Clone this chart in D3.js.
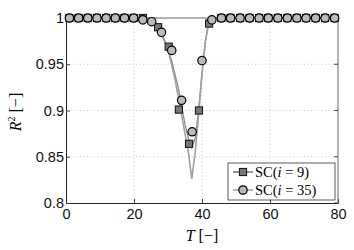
<!DOCTYPE html>
<html>
<head>
<meta charset="utf-8">
<script src="https://cdn.jsdelivr.net/npm/d3@7"></script>
<style>
body { margin: 0; background: #fff; }
</style>
</head>
<body>
<svg id="chart" width="354" height="250"></svg>
<script>
// markers
const sqT = [1, 3.7, 6.4, 9.1, 11.8, 14.5, 17.2, 19.9, 22.6, 27.1, 30.2, 33.2, 36.2, 39.1, 42.1, 45.7, 48.4, 51.2, 54.0, 56.8, 59.5, 62.3, 65.1, 67.9, 70.6, 73.4, 76.2, 79.0];
const sqR = [1, 1, 1, 1, 1, 1, 1, 1, 1, 0.990, 0.969, 0.901, 0.864, 0.900, 0.994, 1, 1, 1, 1, 1, 1, 1, 1, 1, 1, 1, 1, 1];
const ciT = [1, 3.7, 6.4, 9.1, 11.8, 14.5, 17.2, 19.9, 22.6, 25.2, 28.1, 31.1, 34.0, 37.1, 40.0, 42.9, 45.7, 48.4, 51.2, 54.0, 56.8, 59.5, 62.3, 65.1, 67.9, 70.6, 73.4, 76.2, 79.0];
const ciR = [1, 1, 1, 1, 1, 1, 1, 1, 0.998, 0.996, 0.9845, 0.965, 0.911, 0.877, 0.954, 0.998, 1, 1, 1, 1, 1, 1, 1, 1, 1, 1, 1, 1, 1];
// underlying curves
const lineAT = [0, 24, 26, 28, 30, 32, 34, 36, 37, 38, 39, 40, 41, 42, 43, 80];
const lineAR = [1, 1, 0.996, 0.985, 0.966, 0.935, 0.895, 0.855, 0.826, 0.855, 0.895, 0.94, 0.975, 0.995, 1, 1];
const lineBT = [0, 24, 26, 27, 29, 31, 33, 34, 35, 36, 37, 38, 39, 40, 41, 42, 43, 80];
const lineBR = [1, 1, 0.997, 0.99, 0.975, 0.955, 0.925, 0.905, 0.885, 0.87, 0.86, 0.87, 0.9, 0.94, 0.975, 0.995, 1, 1];

const xTicks = [0, 20, 40, 60, 80];
const yTicks = [0.8, 0.85, 0.9, 0.95, 1];
const legendLabels = ["9", "35"];

const SANS = "Liberation Sans, Arial, sans-serif";
const SERIF = "'Liberation Serif', 'DejaVu Serif', serif";

const svg = d3.select("#chart");
const mLeft = 66, mRight = 338, mTop = 18, mBottom = 203;

const x = d3.scaleLinear().domain([0, 80]).range([mLeft, mRight]);
const y = d3.scaleLinear().domain([0.8, 1]).range([mBottom, mTop]);

// grid
svg.append("g").selectAll("line").data(xTicks.slice(1, -1)).join("line")
    .attr("x1", d => x(d)).attr("x2", d => x(d))
    .attr("y1", mTop).attr("y2", mBottom)
    .attr("stroke", "#c8c8c8").attr("stroke-dasharray", "1,2.5");
svg.append("g").selectAll("line").data(yTicks.slice(1, -1)).join("line")
    .attr("y1", d => y(d)).attr("y2", d => y(d))
    .attr("x1", mLeft).attr("x2", mRight)
    .attr("stroke", "#c8c8c8").attr("stroke-dasharray", "1,2.5");

// box
svg.append("line").attr("x1", mLeft).attr("x2", mRight).attr("y1", mTop).attr("y2", mTop).attr("stroke", "#666");
svg.append("line").attr("x1", mRight).attr("x2", mRight).attr("y1", mTop).attr("y2", mBottom).attr("stroke", "#666");

const xAxis = svg.append("g").attr("transform", `translate(0,${mBottom})`)
    .call(d3.axisBottom(x).tickValues(xTicks).tickSizeInner(-4).tickSizeOuter(0).tickPadding(6));
const yAxis = svg.append("g").attr("transform", `translate(${mLeft},0)`)
    .call(d3.axisLeft(y).tickValues(yTicks).tickFormat(d => String(+d.toFixed(2))).tickSizeInner(-4).tickSizeOuter(0).tickPadding(2));
[xAxis, yAxis].forEach(a => {
    a.attr("font-family", SANS).attr("font-size", 14.5);
    a.select(".domain").attr("stroke", "#222");
    a.selectAll(".tick line").attr("stroke", "#444");
    a.selectAll("text").attr("fill", "#111");
});
// ticks on right side too
svg.append("g").selectAll("line").data(yTicks).join("line")
    .attr("x1", mRight).attr("x2", mRight - 4).attr("y1", d => y(d)).attr("y2", d => y(d)).attr("stroke", "#444");

// curves
const line = d3.line().x(d => x(d[0])).y(d => y(d[1]));
svg.append("path").datum(d3.zip(lineBT, lineBR)).attr("d", line)
    .attr("fill", "none").attr("stroke", "#8a8a8a").attr("stroke-width", 1.3);
svg.append("path").datum(d3.zip(lineAT, lineAR)).attr("d", line)
    .attr("fill", "none").attr("stroke", "#a0a0a0").attr("stroke-width", 1.6);

// markers
svg.append("g").selectAll("rect").data(d3.zip(sqT, sqR)).join("rect")
    .attr("x", d => x(d[0]) - 3.6).attr("y", d => y(d[1]) - 3.6)
    .attr("width", 7.2).attr("height", 7.2)
    .attr("fill", "#777").attr("stroke", "#111").attr("stroke-width", 1);
svg.append("g").selectAll("circle").data(d3.zip(ciT, ciR)).join("circle")
    .attr("cx", d => x(d[0])).attr("cy", d => y(d[1])).attr("r", 4.2)
    .attr("fill", "#bbb").attr("stroke", "#000").attr("stroke-width", 1.2);

// axis labels
const yl = svg.append("text").attr("font-family", SERIF).attr("font-size", 16)
    .attr("transform", "translate(21,112) rotate(-90)").attr("text-anchor", "middle");
yl.append("tspan").attr("font-style", "italic").text("R");
yl.append("tspan").attr("font-size", 10).attr("dy", -6).text("2");
yl.append("tspan").attr("dy", 6).text(" [−]");

const xl = svg.append("text").attr("font-family", SERIF).attr("font-size", 16)
    .attr("x", 202).attr("y", 241).attr("text-anchor", "middle");
xl.append("tspan").attr("font-style", "italic").text("T");
xl.append("tspan").text(" [−]");

// legend
const lg = svg.append("g");
lg.append("rect").attr("x", 228).attr("y", 163).attr("width", 107).attr("height", 37)
    .attr("fill", "#fff").attr("stroke", "#333").attr("stroke-width", 0.8);
legendLabels.forEach((lab, i) => {
    const ly = 172 + i * 18;
    lg.append("line").attr("x1", 233).attr("x2", 253).attr("y1", ly).attr("y2", ly)
        .attr("stroke", i === 0 ? "#555" : "#888").attr("stroke-width", 1.2);
    if (i === 0) {
        lg.append("rect").attr("x", 239.4).attr("y", ly - 3.6).attr("width", 7.2).attr("height", 7.2)
            .attr("fill", "#777").attr("stroke", "#111").attr("stroke-width", 1);
    } else {
        lg.append("circle").attr("cx", 243).attr("cy", ly).attr("r", 4.2)
            .attr("fill", "#bbb").attr("stroke", "#000").attr("stroke-width", 1.2);
    }
    const t = lg.append("text").attr("font-family", SERIF).attr("font-size", 14.5)
        .attr("x", 255).attr("y", ly + 5);
    t.append("tspan").text("SC(");
    t.append("tspan").attr("font-style", "italic").text("i");
    t.append("tspan").text(" = " + lab + ")");
});
</script>
</body>
</html>
